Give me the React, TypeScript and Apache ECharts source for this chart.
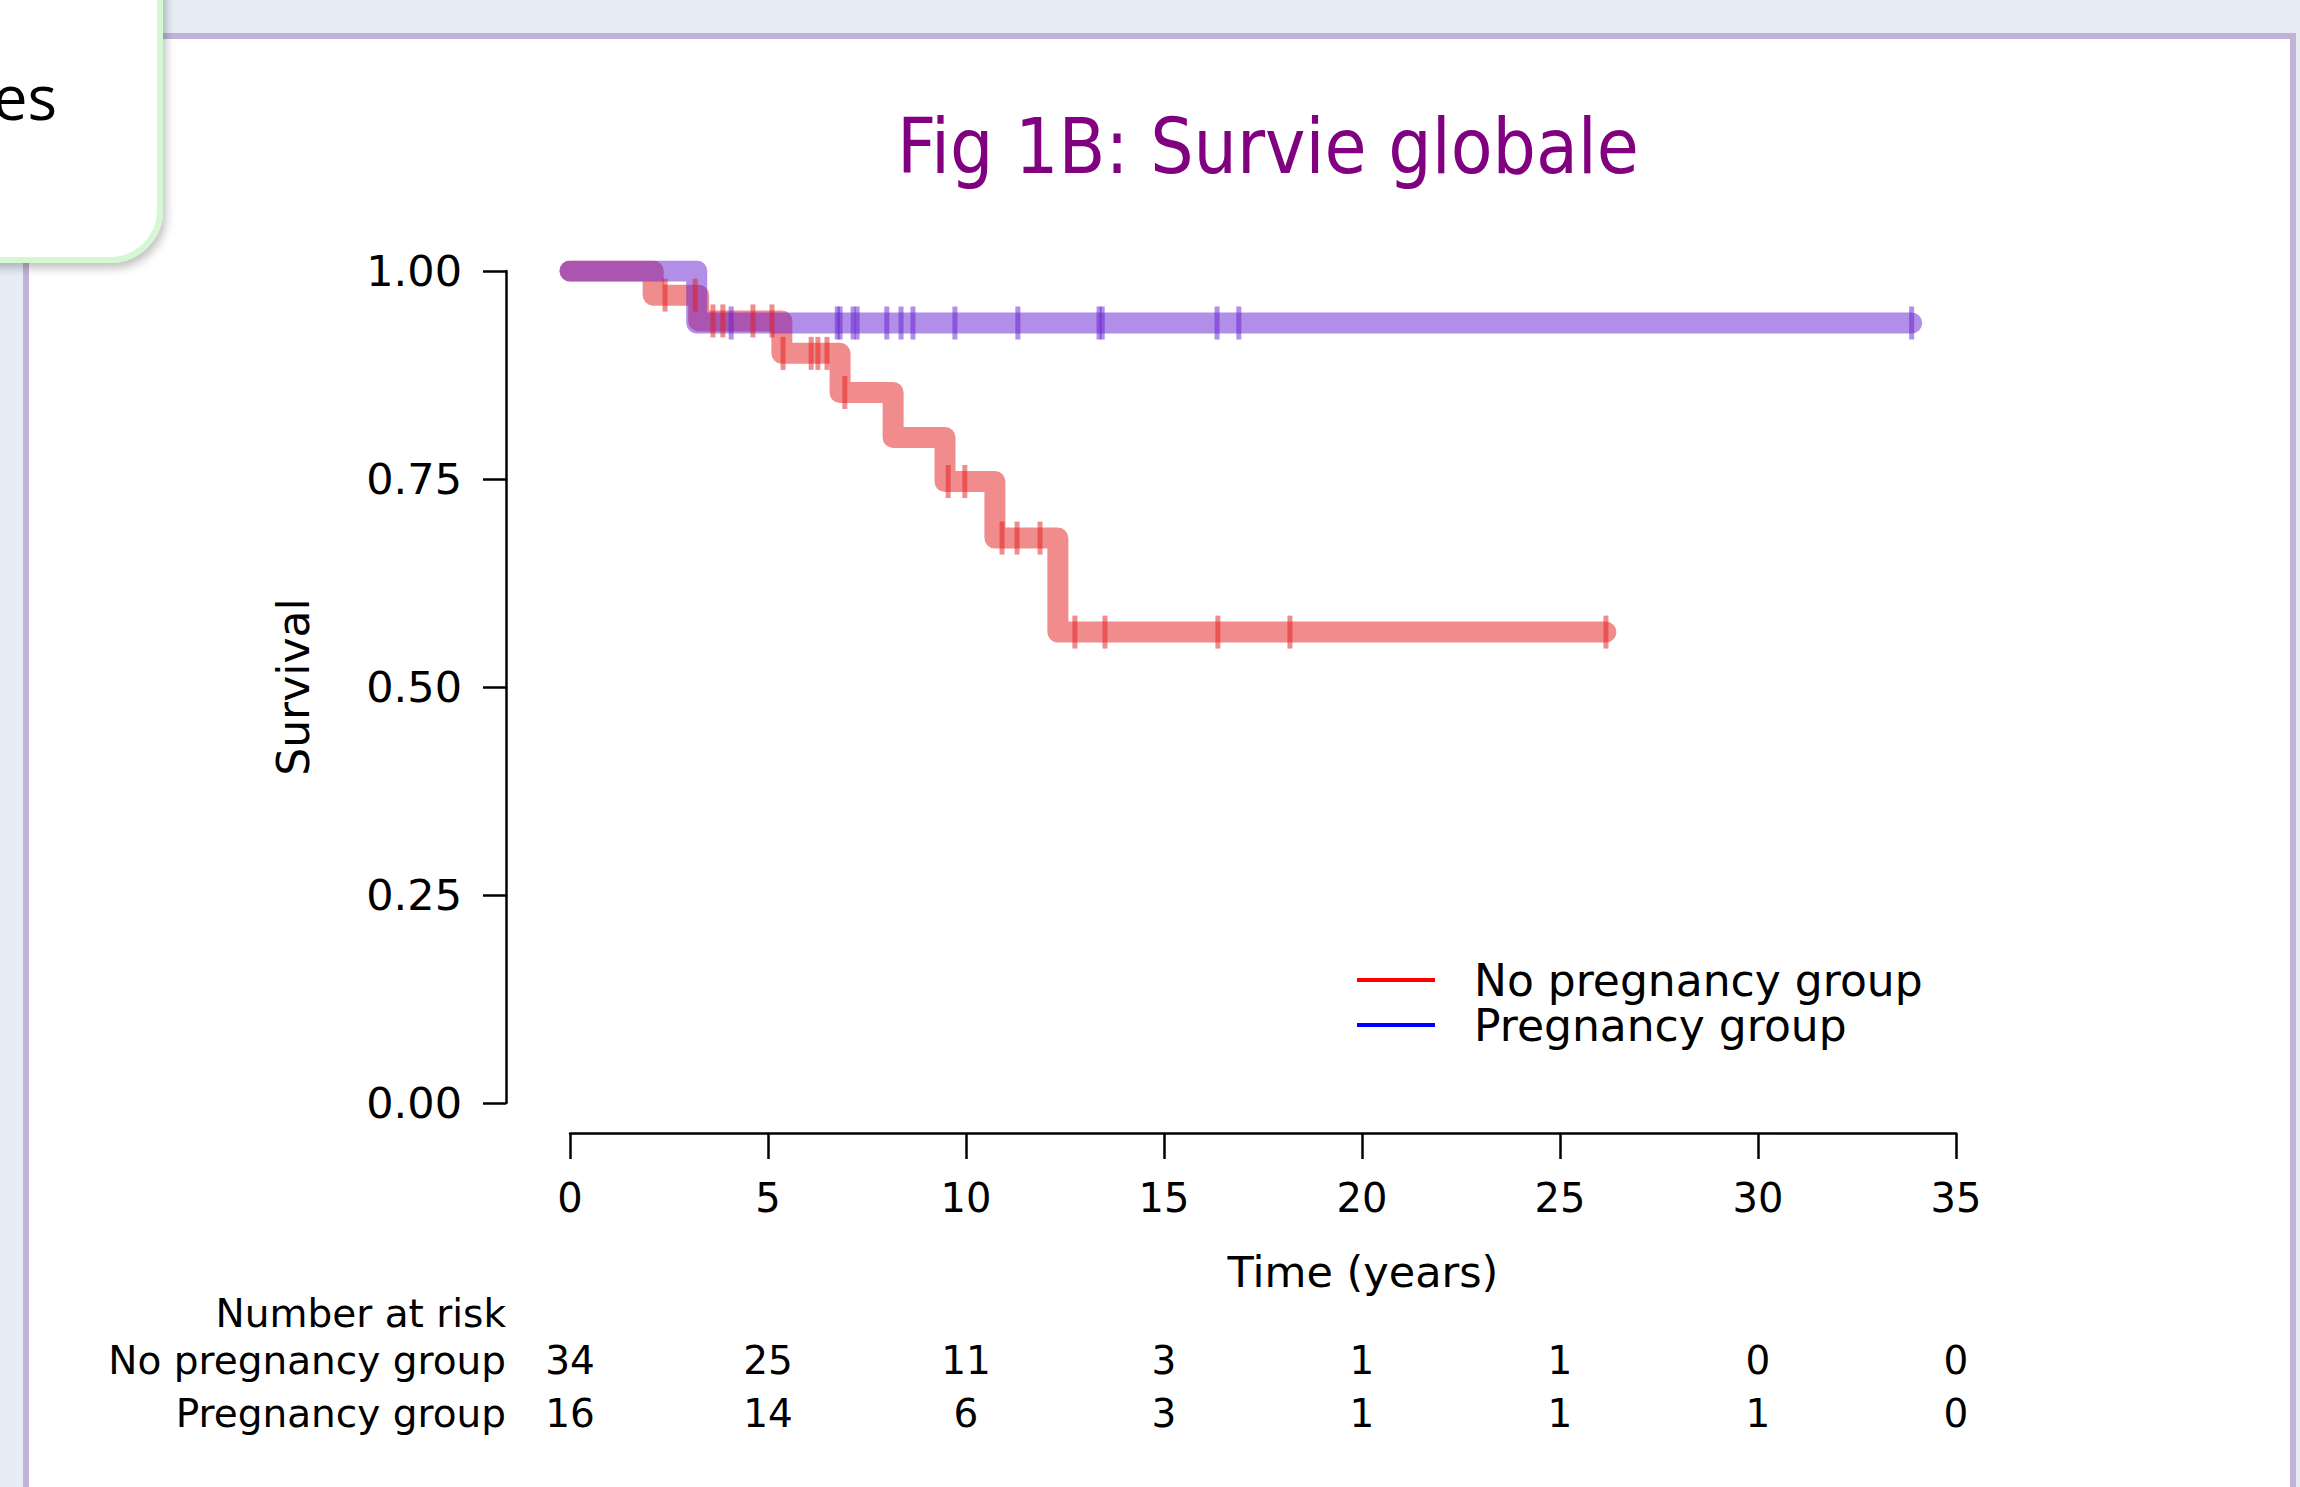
import React, { useEffect, useRef } from "react";
import * as echarts from "echarts";

// ---- Data ----
const noPregName = "No pregnancy group";
const pregName = "Pregnancy group";

// Kaplan–Meier step points (time in years, survival after the event)
const noPregTimes = [0, 2.1, 3.25, 5.35, 6.82, 8.16, 9.47, 10.73, 12.32, 26.16];
const noPregSurv = [1.0, 0.971, 0.94, 0.901, 0.854, 0.8, 0.747, 0.679, 0.566, 0.566];
const pregTimes = [0, 3.2, 33.88];
const pregSurv = [1.0, 0.9375, 0.9375];

// Censoring times (tick marks)
const noPregCensored = [2.4, 3.16, 3.61, 3.86, 4.62, 5.1, 5.38, 6.09, 6.26, 6.49, 6.94, 9.55, 9.97, 10.91, 11.29, 11.87, 12.75, 13.51, 16.36, 18.18, 26.16];
const pregCensored = [4.07, 6.75, 6.82, 7.15, 7.25, 8.0, 8.36, 8.66, 9.72, 11.31, 13.36, 13.44, 16.34, 16.89, 33.88];

// Number at risk table
const riskTimes = [0, 5, 10, 15, 20, 25, 30, 35];
const riskNoPreg = [34, 25, 11, 3, 1, 1, 0, 0];
const riskPreg = [16, 14, 6, 3, 1, 1, 1, 0];

const yTicks = [0, 0.25, 0.5, 0.75, 1.0];

const FONT = '"DejaVu Sans", sans-serif';
const RED = "rgb(228,25,28)";
const PURPLE = "rgb(100,30,210)";

function survAt(times: number[], surv: number[], t: number): number {
  let s = surv[0];
  for (let i = 0; i < times.length; i++) {
    if (times[i] <= t) s = surv[i];
  }
  return s;
}

function riskAxis(name: string, values: number[], offset: number) {
  return {
    type: "value",
    gridIndex: 0,
    position: "bottom",
    min: riskTimes[0],
    max: riskTimes[riskTimes.length - 1],
    interval: 5,
    offset,
    axisLine: { show: false, onZero: false },
    axisTick: { show: false },
    splitLine: { show: false },
    axisLabel: {
      margin: 0,
      verticalAlign: "middle",
      fontSize: 39,
      lineHeight: 39,
      fontFamily: FONT,
      color: "#000",
      showMinLabel: true,
      showMaxLabel: true,
      formatter: (v: number) => {
        const i = riskTimes.indexOf(Math.round(v));
        return i >= 0 ? String(values[i]) : "";
      },
    },
    name,
    nameLocation: "start",
    nameGap: 64,
    nameTextStyle: {
      fontSize: 39,
      fontFamily: FONT,
      color: "#000",
      align: "right",
      verticalAlign: "middle",
    },
  };
}

export default function App() {
  const ref = useRef<HTMLDivElement>(null);

  useEffect(() => {
    if (!ref.current) return;
    const chart = echarts.init(ref.current, undefined, { renderer: "svg" });

    const option: any = {
      animation: false,
      title: {
        text: "Fig 1B: Survie globale",
        left: 1263,
        top: 103,
        textAlign: "center",
        textStyle: {
          color: "#800080",
          fontSize: 76,
          fontWeight: "normal",
          fontFamily: '"DejaVu Sans Condensed", "Liberation Sans Narrow", "DejaVu Sans", sans-serif',
        },
      },
      graphic: [
        { type: "rect", z: -20, silent: true, shape: { x: 0, y: 0, width: 2300, height: 1487 }, style: { fill: "#E6EDF5" } },
        { type: "rect", z: -19, silent: true, shape: { x: 26, y: 36, width: 2267, height: 1500 }, style: { fill: "#ffffff", stroke: "#C2B3D6", lineWidth: 6 } },
        {
          type: "rect", z: -18, silent: true,
          shape: { x: -60, y: -60, width: 220, height: 320, r: 50 },
          style: { fill: "#ffffff", stroke: "#D3F8D3", lineWidth: 6, shadowBlur: 10, shadowColor: "rgba(0,0,0,0.25)", shadowOffsetX: 3, shadowOffsetY: 5 },
        },
        {
          type: "text", z: -17, silent: true, x: 57, y: 96,
          style: { text: "es", align: "right", verticalAlign: "middle", fontSize: 62, fontFamily: '"Open Sans", sans-serif', fill: "#000" },
        },
        {
          type: "text", z: 5, silent: true, x: 506, y: 1313,
          style: { text: "Number at risk", align: "right", verticalAlign: "middle", fontSize: 39, fontFamily: FONT, fill: "#000" },
        },
      ],
      legend: {
        orient: "vertical",
        left: 1357,
        top: 958,
        padding: 0,
        itemWidth: 78,
        itemHeight: 4,
        itemGap: 1,
        selectedMode: false,
        data: [
          { name: noPregName, icon: "rect", itemStyle: { color: "#ff0000", opacity: 1 } },
          { name: pregName, icon: "rect", itemStyle: { color: "#0000ff", opacity: 1 } },
        ],
        textStyle: { fontSize: 44, lineHeight: 44, fontFamily: FONT, color: "#000", padding: [0, 0, 0, 34] },
      },
      grid: { left: 570, top: 271, width: 1386, height: 832, containLabel: false },
      xAxis: [
        {
          type: "value",
          gridIndex: 0,
          position: "bottom",
          min: 0,
          max: 35,
          interval: 5,
          offset: 30,
          axisLine: { show: true, onZero: false, lineStyle: { color: "#000", width: 2.5 } },
          axisTick: { show: true, inside: false, length: 26, lineStyle: { color: "#000", width: 2.5 } },
          splitLine: { show: false },
          axisLabel: { margin: 45, fontSize: 40, lineHeight: 40, fontFamily: FONT, color: "#000", showMinLabel: true, showMaxLabel: true },
          name: "Time (years)",
          nameLocation: "middle",
          nameGap: 117,
          nameTextStyle: { fontSize: 43, lineHeight: 43, fontFamily: FONT, color: "#000", padding: [0, 0, 0, 200] },
        },
        riskAxis(noPregName, riskNoPreg, 257),
        riskAxis(pregName, riskPreg, 310),
      ],
      yAxis: {
        type: "value",
        min: yTicks[0],
        max: yTicks[yTicks.length - 1],
        interval: 0.25,
        offset: 64,
        axisLine: { show: true, onZero: false, lineStyle: { color: "#000", width: 2.5 } },
        axisTick: { show: true, inside: false, length: 23, lineStyle: { color: "#000", width: 2.5 } },
        splitLine: { show: false },
        axisLabel: { margin: 44, fontSize: 43, fontFamily: FONT, color: "#000", formatter: (v: number) => v.toFixed(2) },
        name: "Survival",
        nameLocation: "middle",
        nameGap: 191,
        nameTextStyle: { fontSize: 44, lineHeight: 44, fontFamily: FONT, color: "#000" },
      },
      series: [
        {
          name: noPregName,
          type: "line",
          step: "end",
          xAxisIndex: 0,
          symbol: "none",
          showSymbol: false,
          data: noPregTimes.map((t, i) => [t, noPregSurv[i]]),
          itemStyle: { color: RED },
          lineStyle: { color: RED, width: 21, opacity: 0.5, cap: "round", join: "round" },
          z: 2,
        },
        {
          name: pregName,
          type: "line",
          step: "end",
          xAxisIndex: 0,
          symbol: "none",
          showSymbol: false,
          data: pregTimes.map((t, i) => [t, pregSurv[i]]),
          itemStyle: { color: PURPLE },
          lineStyle: { color: PURPLE, width: 21, opacity: 0.5, cap: "round", join: "round" },
          z: 3,
        },
        {
          name: noPregName + " (censored)",
          type: "scatter",
          xAxisIndex: 0,
          symbol: "rect",
          symbolSize: [5, 33],
          data: noPregCensored.map((t) => [t, survAt(noPregTimes, noPregSurv, t)]),
          itemStyle: { color: RED, opacity: 0.5 },
          z: 4,
        },
        {
          name: pregName + " (censored)",
          type: "scatter",
          xAxisIndex: 0,
          symbol: "rect",
          symbolSize: [5, 33],
          data: pregCensored.map((t) => [t, survAt(pregTimes, pregSurv, t)]),
          itemStyle: { color: PURPLE, opacity: 0.5 },
          z: 5,
        },
      ],
    };

    chart.setOption(option);
    return () => chart.dispose();
  }, []);

  return (
    <div
      ref={ref}
      style={{ position: "absolute", left: 0, top: 0, width: 2300, height: 1487 }}
    />
  );
}
